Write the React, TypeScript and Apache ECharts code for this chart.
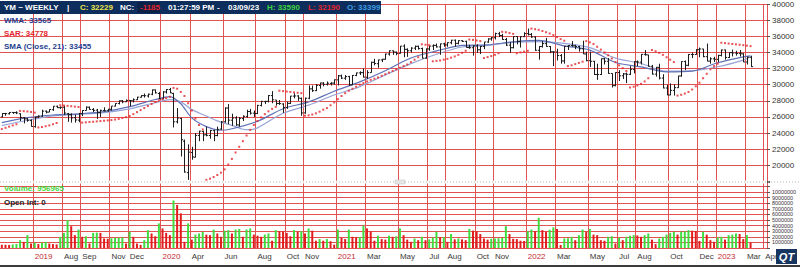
import React, { useEffect, useRef } from 'react';
import * as echarts from 'echarts';

// ---- categories: weekly bars (week ending Friday), first bar week of 2019-04-05, plus empty slots to Apr 2023
const START_UTC = Date.UTC(2019, 3, 5);
const WEEK_SLOTS = 210;

// axis labels (first bar of the labelled month)
const monthLabels: [string, string][] = [
  ['2019-06-07', '2019'], ['2019-08-02', 'Aug'], ['2019-09-06', 'Sep'], ['2019-11-01', 'Nov'], ['2019-12-06', 'Dec'],
  ['2020-02-07', '2020'], ['2020-04-03', 'Apr'], ['2020-06-05', 'Jun'], ['2020-08-07', 'Aug'], ['2020-10-02', 'Oct'],
  ['2020-11-06', 'Nov'], ['2021-01-08', '2021'], ['2021-03-05', 'Mar'], ['2021-05-07', 'May'], ['2021-07-02', 'Jul'],
  ['2021-08-06', 'Aug'], ['2021-10-01', 'Oct'], ['2021-11-05', 'Nov'], ['2022-01-07', '2022'], ['2022-03-04', 'Mar'],
  ['2022-05-06', 'May'], ['2022-07-01', 'Jul'], ['2022-08-05', 'Aug'], ['2022-10-07', 'Oct'], ['2022-12-02', 'Dec'],
  ['2023-01-06', '2023'], ['2023-03-03', 'Mar'], ['2023-04-07', 'Apr'],
];

const opens = [
  26000, 26430, 26400, 26560, 26540, 26400, 25900, 25760, 25550, 24800,
  26000, 26100, 26720, 26600, 26900, 27330, 27150, 27200, 26400, 26280,
  25900, 25600, 26400, 26800, 27200, 26930, 26850, 26550, 26800, 26770,
  26950, 27350, 27680, 28000, 27880, 28050, 28000, 28130, 28450, 28640,
  28600, 28820, 29350, 28900, 28250, 29100, 29400, 28900, 25400, 25800,
  23000, 19100, 21600, 21000, 23700, 24200, 23800, 23700, 24300, 23700,
  24500, 25400, 27100, 25600, 25870, 25000, 25800, 26070, 26670, 26470,
  26430, 27430, 27900, 27930, 28650, 28100, 27660, 27600, 27180, 27680,
  28580, 28600, 28300, 26500, 28320, 29480, 29260, 29900, 30200, 30050,
  30150, 30200, 30600, 31100, 30800, 31000, 29980, 31150, 31460, 31490,
  30930, 31500, 32780, 32600, 33070, 33150, 33800, 34200, 34040, 33880,
  34780, 34380, 34200, 34530, 34750, 34480, 33300, 34430, 34790, 34870,
  34680, 35060, 34930, 35200, 35510, 35120, 35450, 35370, 34600, 34580,
  34800, 34320, 34740, 35290, 35670, 35820, 36320, 36100, 35600, 34900,
  34580, 35970, 35360, 35950, 36330, 36230, 35910, 34260, 34720, 35090,
  34730, 34070, 34050, 33600, 32940, 34750, 34860, 34810, 34720, 34450,
  33810, 32970, 32900, 31260, 31260, 33210, 32900, 31390, 29880, 31500,
  31100, 31330, 31280, 31890, 32840, 32800, 33760, 33700, 32280, 31310,
  32150, 30820, 29590, 28720, 29290, 29630, 31080, 32860, 32400, 33740,
  33740, 34340, 34420, 33470, 32920, 33200, 33140, 33630, 34300, 33370,
  33970, 33920, 33860, 33820, 32810, 33399,
];

const highs = [
  26460, 26500, 26600, 26620, 26700, 26450, 26000, 25900, 25700, 26000,
  26200, 26900, 26800, 26970, 27350, 27400, 27300, 27400, 26500, 26450,
  26300, 26500, 26850, 27300, 27300, 27100, 27000, 26900, 27200, 27000,
  27350, 27700, 28050, 28100, 28170, 28100, 28300, 28500, 28700, 28900,
  28900, 29400, 29400, 29100, 29200, 29450, 29600, 29000, 27100, 25900,
  23200, 22600, 22300, 24000, 24300, 24300, 24800, 24400, 24400, 24800,
  25500, 27200, 27600, 26400, 26100, 26000, 26200, 26900, 27000, 26800,
  27500, 28000, 28000, 28700, 29200, 28100, 28100, 27700, 27900, 28600,
  28950, 28700, 28400, 28400, 29900, 29900, 30100, 30250, 30300, 30400,
  30300, 30650, 31200, 31250, 31200, 31100, 31200, 31500, 31650, 32000,
  31800, 32850, 33200, 33100, 33200, 33850, 34250, 34250, 34100, 34800,
  35000, 34500, 34650, 34850, 34850, 34600, 34500, 34800, 35000, 35100,
  35100, 35200, 35250, 35550, 35600, 35500, 35500, 35450, 34950, 34900,
  35000, 34800, 35300, 35750, 35900, 36450, 36550, 36300, 35800, 35300,
  36000, 36000, 36000, 36500, 36950, 36400, 36000, 34800, 35400, 35800,
  34800, 34150, 34450, 33800, 34800, 34900, 35400, 34950, 34800, 35450,
  34100, 34100, 32950, 32600, 33250, 33300, 33300, 31400, 31550, 31800,
  31450, 31500, 32300, 32900, 33000, 33800, 34300, 33700, 32450, 32200,
  32600, 31300, 30000, 30150, 30050, 31100, 32900, 33000, 33800, 33990,
  34400, 34600, 34450, 35100, 33400, 33450, 33700, 34350, 34350, 34000,
  34350, 34200, 34300, 33900, 33500, 33590,
];

const lows = [
  25980, 26140, 26300, 26380, 26350, 25500, 25200, 25400, 24800, 24680,
  25900, 26000, 26450, 26600, 26750, 27100, 27000, 26250, 25400, 25300,
  25300, 25350, 26100, 26800, 26900, 26600, 25750, 26000, 26700, 26650,
  26800, 27300, 27550, 27700, 27850, 27300, 27800, 28100, 28400, 28400,
  28400, 28700, 28900, 28200, 28200, 28900, 28950, 24700, 25200, 21100,
  19100, 18200, 20700, 21000, 23000, 23000, 23600, 23300, 23000, 23600,
  24400, 25300, 25100, 24900, 24900, 24800, 25500, 25900, 26300, 26000,
  26350, 27300, 27600, 27800, 27700, 27400, 27500, 26500, 27000, 27600,
  28300, 28000, 26150, 26400, 28200, 29100, 29200, 29500, 29800, 29900,
  29900, 30000, 29900, 30700, 30600, 29850, 29950, 31050, 31200, 30900,
  30700, 31500, 32400, 32100, 32800, 33100, 33600, 33700, 33650, 33850,
  33400, 33450, 34000, 34300, 34350, 33250, 33200, 34200, 34300, 34600,
  33700, 34700, 34700, 35000, 34700, 35000, 35300, 34600, 34450, 33600,
  33950, 33800, 34400, 35200, 35450, 35600, 35900, 35550, 34800, 33950,
  34500, 35000, 34600, 35900, 36100, 35800, 34200, 33100, 34600, 34700,
  33900, 32300, 33000, 32600, 32600, 34300, 34700, 34400, 34100, 33800,
  32900, 32200, 31200, 30600, 31200, 32500, 31350, 29650, 29800, 30450,
  30700, 30200, 31200, 31400, 32300, 32500, 33600, 32250, 31250, 31000,
  30650, 29550, 28700, 28700, 28650, 29600, 31000, 31800, 32300, 33300,
  33700, 33400, 33400, 32900, 32600, 32800, 32800, 33500, 33100, 33300,
  33500, 33600, 33500, 32800, 32500, 32190,
];

const closes = [
  26425, 26412, 26559, 26543, 26505, 25942, 25764, 25586, 24815, 25984,
  26090, 26719, 26600, 26922, 27332, 27154, 27192, 26485, 26287, 25886,
  25629, 26403, 26797, 27220, 26935, 26820, 26573, 26817, 26770, 26958,
  27347, 27681, 28005, 27876, 28051, 28015, 28135, 28455, 28645, 28634,
  28823, 29348, 28989, 28256, 29102, 29398, 28992, 25409, 25864, 23185,
  19174, 21637, 21053, 23719, 24242, 23775, 23724, 24331, 23685, 24465,
  25383, 27111, 25606, 25871, 25016, 25827, 26075, 26672, 26470, 26428,
  27433, 27931, 27930, 28654, 28133, 27666, 27657, 27174, 27682, 28587,
  28606, 28335, 26502, 28323, 29479, 29263, 29910, 30218, 30046, 30179,
  30200, 30606, 31098, 30814, 30997, 29983, 31148, 31458, 31494, 30932,
  31496, 32779, 32628, 33073, 33153, 33801, 34200, 34043, 33875, 34778,
  34382, 34208, 34529, 34756, 34480, 33290, 34433, 34786, 34870, 34687,
  35062, 34935, 35208, 35515, 35120, 35456, 35369, 34608, 34585, 34798,
  34326, 34746, 35295, 35677, 35820, 36328, 36100, 35602, 34899, 34580,
  35971, 35365, 35951, 36338, 36231, 35912, 34265, 34725, 35089, 34738,
  34079, 34059, 33614, 32944, 34755, 34861, 34818, 34721, 34451, 33811,
  32977, 32899, 31262, 31262, 33213, 32900, 31393, 29888, 31501, 31097,
  31338, 31288, 31899, 32845, 32803, 33761, 33707, 32283, 31318, 32151,
  30822, 29590, 28726, 29297, 29635, 31083, 32861, 32403, 33748, 33746,
  34347, 34430, 33477, 32921, 33204, 33147, 33631, 34303, 33375, 33978,
  33926, 33869, 33827, 32817, 33391, 32229,
];

const volumes = [
  600000, 580000, 550000, 650000, 700000, 1400000, 1100000, 2300000, 800000, 950000,
  700000, 950000, 1100000, 800000, 700000, 650000, 2000000, 2700000, 5000000, 3900000,
  2300000, 3300000, 2000000, 2100000, 800000, 2700000, 2750000, 2700000, 1700000, 1650000,
  1750000, 1800000, 1850000, 1900000, 800000, 2900000, 2000000, 800000, 550000, 1400000,
  3200000, 2600000, 2100000, 4400000, 3500000, 2700000, 2300000, 8500000, 7700000, 6200000,
  1100000, 4400000, 1500000, 2400000, 2600000, 2900000, 2400000, 2300000, 3300000, 2600000,
  2000000, 3100000, 3200000, 2600000, 3300000, 3400000, 2000000, 3300000, 3500000, 2400000,
  2200000, 2000000, 2400000, 2600000, 1300000, 3200000, 3000000, 2990000, 2700000, 2100000,
  3200000, 2900000, 3000000, 2600000, 3500000, 3100000, 1300000, 1600000, 1300000, 1600000,
  1200000, 600000, 3300000, 1800000, 1600000, 3300000, 2000000, 1900000, 1950000, 4000000,
  3500000, 3000000, 1300000, 2200000, 1600000, 1500000, 2200000, 2000000, 2100000, 3500000,
  2300000, 1500000, 1100000, 1700000, 1400000, 2000000, 1400000, 1550000, 1850000, 2900000,
  1900000, 1950000, 1100000, 2500000, 1550000, 1700000, 1550000, 1400000, 3400000, 3100000,
  3000000, 2500000, 1700000, 1500000, 1650000, 1700000, 1750000, 1800000, 3900000, 2500000,
  1650000, 1600000, 1300000, 1250000, 3000000, 3300000, 3000000, 5400000, 3200000, 2900000,
  3250000, 3700000, 3400000, 550000, 1700000, 1750000, 2000000, 1400000, 2300000, 3300000,
  2900000, 3400000, 2400000, 2300000, 1400000, 1300000, 2000000, 2100000, 800000, 1850000,
  1400000, 2000000, 2200000, 2300000, 2250000, 2000000, 2300000, 2600000, 1500000, 700000,
  1700000, 2000000, 2400000, 2700000, 2900000, 2400000, 2900000, 2950000, 3200000, 3100000,
  3050000, 1250000, 2900000, 2400000, 1400000, 1100000, 1900000, 2000000, 1500000, 2300000,
  2400000, 2600000, 2500000, 1600000, 2300000, 956965,
];

const sar = [
  24500, 24650, 24800, 24950, 25100, 26750, 26720, 26680, 26620, 26540,
  24700, 24750, 24850, 24950, 25100, 25250, 27450, 27420, 27380, 27330,
  27280, 27230, 25300, 25330, 25370, 25410, 25450, 25490, 25530, 25570,
  25620, 25680, 25760, 25860, 25980, 26120, 26350, 26600, 26850, 27100,
  27350, 27600, 27850, 28050, 28200, 28350, 28500, 29600, 29500, 29100,
  28600, 27700, 26800, 25800, 25000, 24450, 18200, 18350, 18550, 18800,
  19100, 19500, 20100, 20800, 21600, 22300, 23000, 23700, 24400, 25000,
  25500, 25950, 26350, 26700, 27000, 27250, 29250, 29200, 29150, 29100,
  29050, 29000, 28950, 26150, 26200, 26300, 26450, 26650, 26900, 27100,
  27450, 27800, 28200, 28600, 28950, 29250, 29500, 29750, 30000, 30200,
  30400, 30600, 30750, 30900, 31100, 31300, 31500, 31700, 31900, 32100,
  32300, 32500, 32800, 33100, 33400, 35000, 34950, 34900, 32900, 32950,
  33000, 33100, 33200, 33350, 33500, 33700, 33950, 34200, 35600, 35550,
  35480, 35400, 33300, 33420, 33550, 33700, 33900, 36550, 36500, 36400,
  36300, 33900, 34000, 34100, 34200, 36950, 36880, 36800, 36650, 36500,
  36350, 36150, 35900, 35650, 35450, 32300, 32400, 32550, 32700, 32850,
  35400, 35250, 35050, 34700, 34350, 34000, 33650, 33250, 32800, 32400,
  32050, 31700, 29650, 29750, 29900, 30100, 30400, 30800, 34300, 34150,
  33950, 33700, 33400, 33100, 32800, 28650, 28750, 28900, 29100, 29400,
  29800, 30250, 30800, 31350, 31900, 32300, 32600, 35200, 35150, 35100,
  35050, 35000, 34950, 34900, 34840, 34778,
];

// moving averages read at sample weeks (week number from first bar)
const wmaWeeks = [0, 7, 14, 21, 28, 35, 42, 46, 49, 52, 56, 60, 63, 70, 77, 84, 91, 98, 105, 112, 119, 126, 133, 140, 147, 154, 161, 168, 175, 182, 189, 196, 203, 205];
const wmaValues = [25290, 25910, 26240, 26380, 26650, 27270, 28160, 28530, 27640, 25880, 24800, 24350, 24540, 25460, 27020, 27870, 29180, 30350, 31730, 33310, 34180, 34870, 34940, 35320, 35480, 34810, 34290, 32750, 32210, 31580, 31670, 32720, 33450, 33565];
const smaWeeks = [0, 7, 14, 21, 28, 35, 42, 46, 49, 52, 56, 59, 63, 66, 68, 70, 77, 84, 91, 98, 105, 112, 119, 126, 133, 140, 147, 154, 161, 168, 175, 182, 189, 196, 203, 205];
const smaValues = [24920, 25590, 26140, 26320, 26540, 27000, 27760, 28140, 27870, 26910, 26120, 25510, 24950, 24480, 24420, 24650, 26450, 27460, 28720, 29760, 31200, 32610, 33770, 34670, 34860, 35240, 35340, 35110, 34600, 33300, 32620, 31670, 31730, 32220, 33050, 33455];

const priceTicks = { min: 18000, max: 40000, step: 2000 };
const volumeTicks = { min: 0, max: 11800000, step: 1000000 };

const FONT = '"Liberation Sans", Arial, Helvetica, sans-serif';
const GRID_RED = '#e25252';

function weekDates(): string[] {
  const out: string[] = [];
  for (let i = 0; i < WEEK_SLOTS; i++) {
    out.push(new Date(START_UTC + i * 7 * 86400000).toISOString().slice(0, 10));
  }
  return out;
}

export default function App() {
  const ref = useRef<HTMLDivElement>(null);

  useEffect(() => {
    const el = ref.current;
    if (!el) return;
    const chart = echarts.init(el, undefined, { renderer: 'svg' });
    const dates = weekDates();
    const labelMap = new Map<string, string>(monthLabels);
    const showAt = (_i: number, v: string) => labelMap.has(v);
    const isYear = (t: string | undefined) => !!t && /^\d{4}$/.test(t);

    const ohlc = opens.map((o, i) => [i, o, highs[i], lows[i], closes[i]]);
    const volData = volumes.map((v, i) => ({
      value: v,
      itemStyle: { color: i > 0 && v > volumes[i - 1] ? '#3fdc3f' : '#e01d1d' },
    }));

    const gridL = -2.3;
    const gridR = 33;

    const txt = (x: number, y: number, text: string, fill: string, size = 8) => ({
      type: 'text',
      x,
      y,
      z: 100,
      style: {
        text,
        fill,
        font: `bold ${size}px ${FONT}`,
        textVerticalAlign: 'middle',
        verticalAlign: 'middle',
      },
    });

    const option: any = {
      animation: false,
      backgroundColor: '#ffffff',
      grid: [
        { left: gridL, right: gridR, top: -0.5, height: 182 },
        { left: gridL, right: gridR, top: 182, height: 66 },
      ],
      xAxis: [
        {
          type: 'category',
          gridIndex: 0,
          data: dates,
          boundaryGap: true,
          axisLine: { show: false },
          axisTick: { show: false },
          axisLabel: { show: false },
          splitLine: { show: true, interval: showAt, lineStyle: { color: GRID_RED, width: 1 } },
        },
        {
          type: 'category',
          gridIndex: 1,
          data: dates,
          boundaryGap: true,
          axisLine: { show: false },
          axisTick: { show: false },
          axisLabel: {
            show: true,
            interval: showAt,
            formatter: (v: string) => labelMap.get(v) || '',
            color: (v: string) => (isYear(labelMap.get(v)) ? '#c42a2f' : '#3a3a3a'),
            fontSize: 8,
            fontFamily: FONT,
            margin: 4,
            align: 'left',
          },
          splitLine: { show: true, interval: showAt, lineStyle: { color: GRID_RED, width: 1 } },
        },
      ],
      yAxis: [
        {
          type: 'value',
          gridIndex: 0,
          position: 'right',
          min: priceTicks.min,
          max: priceTicks.max,
          interval: priceTicks.step,
          axisLine: { show: false },
          axisTick: { show: true, length: 3, lineStyle: { color: '#555' } },
          axisLabel: {
            fontSize: 8,
            fontFamily: FONT,
            color: '#333',
            margin: 5,
            formatter: (v: number) => (v >= 20000 ? String(v) : ''),
          },
          splitLine: { show: true, lineStyle: { color: GRID_RED, width: 1 } },
        },
        {
          type: 'value',
          gridIndex: 1,
          position: 'right',
          min: volumeTicks.min,
          max: volumeTicks.max,
          interval: volumeTicks.step,
          axisLine: { show: false },
          axisTick: { show: true, length: 3, lineStyle: { color: '#555' } },
          axisLabel: {
            fontSize: 5.4,
            lineHeight: 5.4,
            fontFamily: FONT,
            color: '#333',
            margin: 5,
            formatter: (v: number) => (v >= 1000000 && v <= 10000000 ? String(v) : ''),
          },
          splitLine: { show: true, lineStyle: { color: GRID_RED, width: 1 } },
        },
      ],
      series: [
        {
          type: 'line',
          name: 'SMA',
          xAxisIndex: 0,
          yAxisIndex: 0,
          data: smaWeeks.map((w, k) => [w, smaValues[k]]),
          smooth: 0.3,
          showSymbol: false,
          lineStyle: { color: '#97a4d6', width: 1.2 },
          z: 2,
        },
        {
          type: 'line',
          name: 'WMA',
          xAxisIndex: 0,
          yAxisIndex: 0,
          data: wmaWeeks.map((w, k) => [w, wmaValues[k]]),
          smooth: 0.3,
          showSymbol: false,
          lineStyle: { color: '#5f72b6', width: 1.2 },
          z: 2,
        },
        {
          type: 'custom',
          name: 'YM',
          xAxisIndex: 0,
          yAxisIndex: 0,
          data: ohlc,
          encode: { x: 0, y: [1, 2, 3, 4] },
          clip: true,
          z: 3,
          renderItem: (_params: any, api: any) => {
            const i = api.value(0);
            const o = api.coord([i, api.value(1)]);
            const h = api.coord([i, api.value(2)]);
            const l = api.coord([i, api.value(3)]);
            const c = api.coord([i, api.value(4)]);
            const x = Math.round(h[0]) + 0.5;
            const st = { stroke: '#1c1c1c', lineWidth: 1 };
            return {
              type: 'group',
              children: [
                { type: 'line', shape: { x1: x, y1: h[1], x2: x, y2: l[1] }, style: st },
                { type: 'line', shape: { x1: x - 1.6, y1: o[1], x2: x, y2: o[1] }, style: st },
                { type: 'line', shape: { x1: x, y1: c[1], x2: x + 1.6, y2: c[1] }, style: st },
              ],
            };
          },
        },
        {
          type: 'scatter',
          name: 'SAR',
          xAxisIndex: 0,
          yAxisIndex: 0,
          data: sar.map((v, i) => [i, v]),
          symbol: 'rect',
          symbolSize: 2,
          itemStyle: { color: '#e3262b' },
          z: 4,
        },
        {
          type: 'bar',
          name: 'Volume',
          xAxisIndex: 1,
          yAxisIndex: 1,
          data: volData,
          barWidth: 2,
          z: 3,
        },
      ],
      graphic: [
        // panel separator
        { type: 'rect', z: 50, shape: { x: 0, y: 180.8, width: 767, height: 2.6 }, style: { fill: '#ffffff' } },
        { type: 'line', z: 51, shape: { x1: 0, y1: 182, x2: 800, y2: 182 }, style: { stroke: '#b8b8b8', lineWidth: 1, lineDash: [1, 2] } },
        { type: 'rect', z: 52, shape: { x: 395, y: 180, width: 10, height: 4 }, style: { fill: '#e6e6e6', stroke: '#bdbdbd', lineWidth: 0.5 } },
        // header bar
        { type: 'rect', z: 90, shape: { x: 0, y: 1, width: 381, height: 13 }, style: { fill: '#0d2d5c' } },
        { type: 'rect', z: 91, shape: { x: 137, y: 2, width: 23, height: 11 }, style: { fill: '#0a2248' } },
        txt(4, 7.5, 'YM ~ WEEKLY', '#ffffff'),
        txt(67, 7.5, '|', '#ffffff'),
        txt(80, 7.5, 'C: 32229', '#efe54a'),
        txt(120, 7.5, 'NC:', '#ffffff'),
        txt(140, 7.5, '-1185', '#e3262b'),
        txt(168, 7.5, '01:27:59 PM', '#ffffff'),
        txt(217, 7.5, '-', '#ffffff'),
        txt(228, 7.5, '03/09/23', '#ffffff'),
        txt(267, 7.5, 'H: 33590', '#3fd43f'),
        txt(308, 7.5, 'L: 32190', '#e3262b'),
        txt(347, 7.5, 'O: 33399', '#3d9de2'),
        // indicator legends
        txt(4, 20, 'WMA: 33565', '#1f3f8f'),
        txt(4, 33, 'SAR: 34778', '#e3262b'),
        txt(4, 46, 'SMA (Close, 21): 33455', '#1f3f8f'),
        txt(4, 188.5, 'Volume: 956965', '#44d63a'),
        txt(4, 202, 'Open Int: 0', '#222222'),
        // logo
        { type: 'rect', z: 90, shape: { x: 776, y: 249, width: 21, height: 15 }, style: { fill: '#17365f' } },
        {
          type: 'text', x: 786.5, y: 256.5, z: 91,
          style: { text: 'QT', fill: '#ffffff', font: `bold italic 11px ${FONT}`, textAlign: 'center', align: 'center', textVerticalAlign: 'middle', verticalAlign: 'middle' },
        },
        // bottom border
        { type: 'rect', z: 90, shape: { x: 0, y: 265, width: 800, height: 2 }, style: { fill: '#3c3c3c' } },
      ],
    };

    chart.setOption(option);
    return () => chart.dispose();
  }, []);

  return <div ref={ref} style={{ position: 'fixed', left: 0, top: 0, width: 800, height: 268 }} />;
}
